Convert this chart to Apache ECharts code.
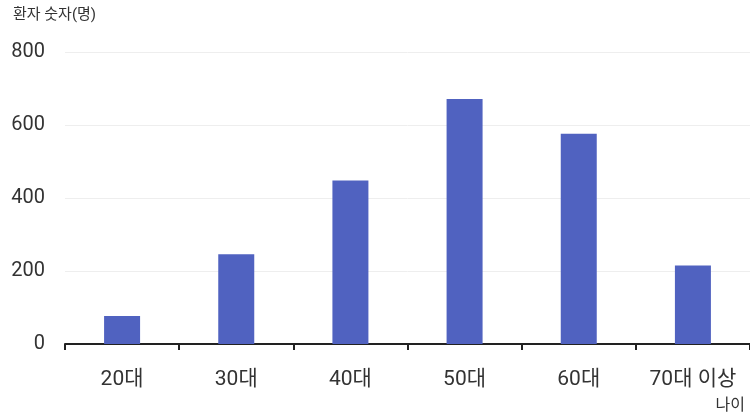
<!DOCTYPE html>
<html>
<head>
<meta charset="utf-8">
<script src="https://cdn.jsdelivr.net/npm/echarts@6/dist/echarts.min.js"></script>
<style>
  html, body { margin: 0; padding: 0; background: #fff; }
  #chart { width: 750px; height: 418px; }
</style>
</head>
<body>
<div id="chart"></div>
<script>
// Age groups and number of patients per group
const ageGroups = ['20대', '30대', '40대', '50대', '60대', '70대 이상'];
const patients = [77, 246, 448, 671, 576, 215];
const yTicks = { min: 0, max: 800, step: 200 };

const FONT = 'Roboto, "Noto Sans CJK KR", sans-serif';

const chart = echarts.init(document.getElementById('chart'), null, { renderer: 'canvas' });

chart.setOption({
  animation: false,
  backgroundColor: '#fff',
  title: {
    text: '환자 숫자(명)',
    left: 8,
    top: 3,
    textStyle: { fontFamily: FONT, fontSize: 15, fontWeight: 'normal', color: '#333' }
  },
  grid: { left: 65, top: 52, right: -3, bottom: 74, containLabel: false },
  xAxis: {
    type: 'category',
    data: ageGroups,
    name: '나이',
    nameLocation: 'end',
    nameGap: -5,
    nameTextStyle: {
      fontFamily: FONT, fontSize: 16, color: '#333',
      align: 'right', verticalAlign: 'top', padding: [54, 0, 0, 0]
    },
    axisLine: { lineStyle: { color: '#222', width: 2 } },
    axisTick: { show: true, length: 6, lineStyle: { color: '#222', width: 2 } },
    axisLabel: { fontFamily: FONT, fontSize: 21, color: '#333', margin: 25 }
  },
  yAxis: {
    type: 'value',
    min: yTicks.min,
    max: yTicks.max,
    interval: yTicks.step,
    axisLine: { show: false },
    axisTick: { show: false },
    axisLabel: { fontFamily: FONT, fontSize: 20, color: '#333', margin: 20 },
    splitLine: { lineStyle: { color: '#eeeeee', width: 1 } }
  },
  series: [{
    type: 'bar',
    data: patients,
    barWidth: 36,
    itemStyle: { color: '#5062c0' }
  }]
});
</script>
</body>
</html>
